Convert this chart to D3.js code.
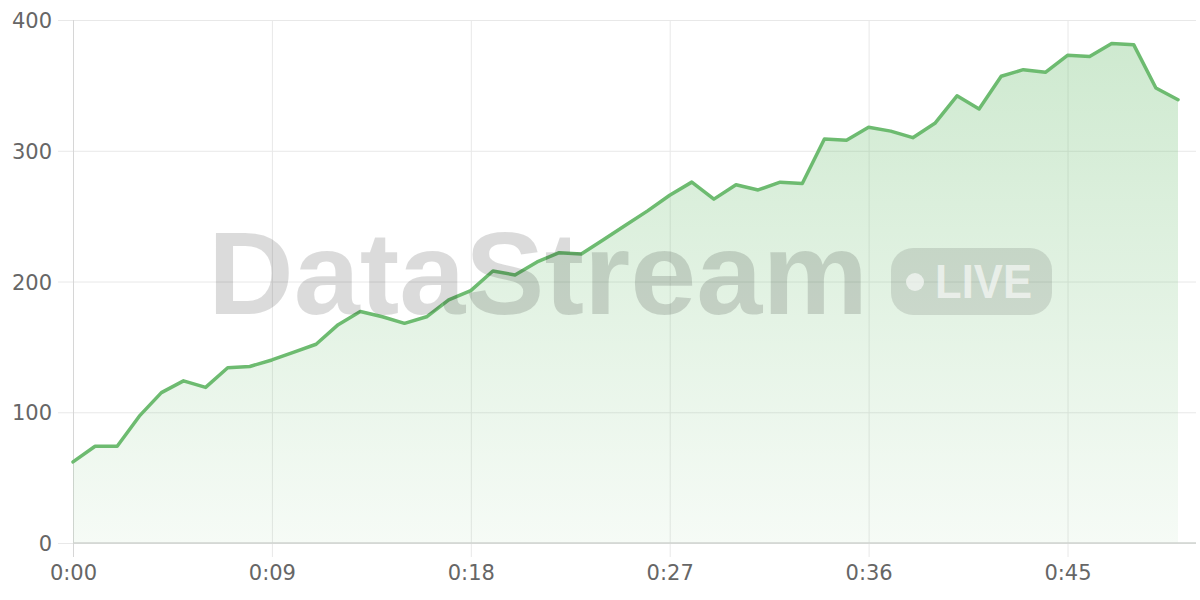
<!DOCTYPE html>
<html>
<head>
<meta charset="utf-8">
<script src="https://cdn.jsdelivr.net/npm/d3@7"></script>
<style>
html,body{margin:0;padding:0;background:#fff;}
svg{display:block;}
</style>
</head>
<body>
<svg id="chart" width="1200" height="600"></svg>
<script>
// ---- data ----
const seconds = d3.range(0, 51);
const values = [62,74,74,97,115,124,119,134,135,140,
                146,152,167,177,173,168,173,186,193,208,
                205,215,222,221,232,243,254,266,276,263,
                274,270,276,275,309,308,318,315,310,321,
                342,332,357,362,360,373,372,382,381,348,339];
const xTicks = [0,9,18,27,36,45];
const yTicks = [0,100,200,300,400];
const watermarkText = "DataStream";
const badgeText = "LIVE";

// ---- layout ----
const svg = d3.select("#chart");
const mLeft = 73, mRight = 1178, mTop = 20, mBottom = 543, gridRight = 1196;
const x = d3.scaleLinear().domain([0, 50]).range([mLeft, mRight]);
const y = d3.scaleLinear().domain([0, 400]).range([mBottom, mTop]);
const data = seconds.map((s, i) => ({s, v: values[i]}));

const defs = svg.append("defs");
const grad = defs.append("linearGradient").attr("id", "fillGrad")
  .attr("gradientUnits", "userSpaceOnUse")
  .attr("x1", 0).attr("x2", 0).attr("y1", y(400)).attr("y2", y(0));
grad.append("stop").attr("offset", "0%").attr("stop-color", "rgb(102,187,106)").attr("stop-opacity", 0.33);
grad.append("stop").attr("offset", "100%").attr("stop-color", "rgb(102,187,106)").attr("stop-opacity", 0.06);

const fmt = d => `${Math.floor(d/60)}:${String(d%60).padStart(2,"0")}`;

// grid (horizontal) with left ticks
const yAxis = svg.append("g").attr("transform", `translate(${mLeft},0)`)
  .call(d3.axisLeft(y).tickValues(yTicks).tickSize(-(gridRight - mLeft)).tickPadding(0).tickSizeOuter(0));
yAxis.select(".domain").remove();
yAxis.selectAll(".tick line").attr("stroke", "#e8e8e8").attr("stroke-width", 1)
  .attr("x1", -15).attr("x2", gridRight - mLeft);
yAxis.selectAll(".tick text").attr("x", -21).attr("dy", "0.36em")
  .attr("fill", "#666").style("font-family", "DejaVu Sans, sans-serif").style("font-size", "21px");

// vertical grid with bottom ticks
const xAxis = svg.append("g").attr("transform", `translate(0,${mBottom})`)
  .call(d3.axisBottom(x).tickValues(xTicks).tickFormat(fmt).tickSizeOuter(0));
xAxis.select(".domain").remove();
xAxis.selectAll(".tick line").attr("stroke", "#e8e8e8").attr("stroke-width", 1)
  .attr("y1", mTop - mBottom).attr("y2", 14);
xAxis.selectAll(".tick text").attr("y", 37).attr("dy", "0")
  .attr("fill", "#666").style("font-family", "DejaVu Sans, sans-serif").style("font-size", "21px");
xAxis.selectAll(".tick").filter(d => d === 0).select("line").attr("stroke", "#d6d6d6");

// area
svg.append("path").datum(data)
  .attr("fill", "url(#fillGrad)")
  .attr("d", d3.area().x(d => x(d.s)).y0(y(0)).y1(d => y(d.v)));

// bottom axis line
svg.append("line").attr("x1", mLeft).attr("x2", gridRight).attr("y1", y(0)).attr("y2", y(0))
  .attr("stroke", "#cfd3cf").attr("stroke-width", 1.5);

// line
svg.append("path").datum(data)
  .attr("fill", "none").attr("stroke", "#6dbb70").attr("stroke-width", 3.5)
  .attr("stroke-linejoin", "round").attr("stroke-linecap", "round")
  .attr("d", d3.line().x(d => x(d.s)).y(d => y(d.v)));

// watermark
const wm = svg.append("g").attr("pointer-events", "none");
wm.append("text").text(watermarkText)
  .attr("x", 208).attr("y", 314)
  .attr("textLength", 660).attr("lengthAdjust", "spacingAndGlyphs")
  .attr("fill", "rgba(0,0,0,0.14)")
  .style("font-family", "Liberation Sans, Arial, sans-serif")
  .style("font-weight", "bold").style("font-size", "116px");
wm.append("rect").attr("x", 891).attr("y", 248).attr("width", 161).attr("height", 67)
  .attr("rx", 22).attr("fill", "rgba(0,0,0,0.11)");
wm.append("circle").attr("cx", 915).attr("cy", 282).attr("r", 9).attr("fill", "rgba(255,255,255,0.6)");
wm.append("text").text(badgeText)
  .attr("x", 935).attr("y", 298)
  .attr("textLength", 97).attr("lengthAdjust", "spacingAndGlyphs")
  .attr("fill", "rgba(255,255,255,0.6)")
  .style("font-family", "Liberation Sans, Arial, sans-serif")
  .style("font-weight", "bold").style("font-size", "48px");
</script>
</body>
</html>
